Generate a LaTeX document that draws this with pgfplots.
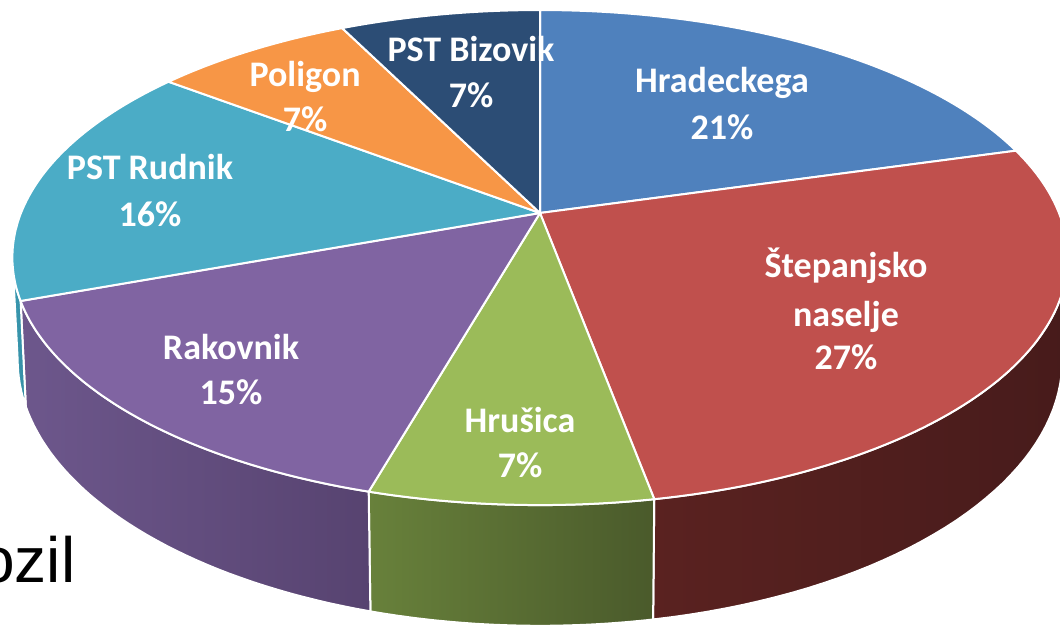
\documentclass[border=0pt]{standalone}
\usepackage{pgfplots}
\pgfplotsset{compat=1.18}
\usepackage{fontspec}
\newfontfamily\labfont{Carlito}
\newfontfamily\ozfont{Liberation Sans}
\definecolor{cHrad}{HTML}{4F81BD}
\definecolor{cStep}{HTML}{C0504D}
\definecolor{cHrus}{HTML}{9BBB59}
\definecolor{cRak}{HTML}{8064A2}
\definecolor{cRud}{HTML}{4BACC6}
\definecolor{cPol}{HTML}{F79646}
\definecolor{cBiz}{HTML}{2C4D75}
\definecolor{sStepL}{HTML}{5A2220}
\definecolor{sStepR}{HTML}{471B1B}
\definecolor{sHrusL}{HTML}{68813B}
\definecolor{sHrusR}{HTML}{4A5A2B}
\definecolor{sRakL}{HTML}{6D578C}
\definecolor{sRakR}{HTML}{574370}
\definecolor{sRudL}{HTML}{3A9AB2}
\definecolor{sRudR}{HTML}{348CA2}
\tikzset{lbl/.style={anchor=base, text=white, inner sep=0pt, font=\labfont\bfseries\fontsize{18pt}{22pt}\selectfont}}
% slice boundaries in percent (values: 20.6, 26.5, 7.3, 15.0, 16.0, 7.3, 7.3)
\newcommand\topslice[3]{%
  \addplot[fill=#3, draw=white, line width=1pt, line join=round, domain=#1:#2, samples=80]
    ({tx(3.6*x)},{ty(3.6*x)}) -- (axis cs:540,213) -- cycle;}
\newcommand\sideslice[4]{%
  \addplot[draw=white, line width=1pt, line join=round, left color=#3, right color=#4,
    variable=\t, samples at={0,1,...,40,80,81,...,120}]
    ({ifthenelse(\t<60, tx(3.6*(#1+\t/40*(#2-#1))), bx(3.6*(#2-(\t-80)/40*(#2-#1))))},
     {ifthenelse(\t<60, ty(3.6*(#1+\t/40*(#2-#1))), by(3.6*(#2-(\t-80)/40*(#2-#1))))}) -- cycle;}
\begin{document}
\begin{tikzpicture}[
  declare function={
    ss(\a)=1/(1+0.18*cos(\a));
    tx(\a)=540+519*sin(\a)*ss(\a);
    ty(\a)=213-239.5*cos(\a)*ss(\a);
    bx(\a)=540+0.99*519*sin(\a)*ss(\a);
    by(\a)=ty(\a)+99*ss(\a);
  }]
\begin{axis}[at={(0,0)}, anchor=south west,
  width=530pt, height=312.5pt, scale only axis,
  xmin=0, xmax=1060, ymin=0, ymax=625, y dir=reverse,
  hide axis, clip=true]
% side walls (front half only)
\sideslice{27.88}{47.1}{sStepL}{sStepR}
\sideslice{47.1}{54.4}{sHrusL}{sHrusR}
\sideslice{54.4}{69.4}{sRakL}{sRakR}
\sideslice{69.4}{72.12}{sRudL}{sRudR}
% top faces
\topslice{0}{20.6}{cHrad}
\topslice{20.6}{47.1}{cStep}
\topslice{47.1}{54.4}{cHrus}
\topslice{54.4}{69.4}{cRak}
\topslice{69.4}{85.4}{cRud}
\topslice{85.4}{92.7}{cPol}
\topslice{92.7}{100}{cBiz}
\end{axis}
\begin{axis}[at={(0,0)}, anchor=south west,
  width=530pt, height=312.5pt, scale only axis,
  xmin=0, xmax=1060, ymin=0, ymax=625, y dir=reverse,
  hide axis, clip=false]
\node[lbl] at (axis cs:722,93) {Hradeckega};
\node[lbl] at (axis cs:722,140) {21\%};
\node[lbl] at (axis cs:846,278) {Štepanjsko};
\node[lbl] at (axis cs:846,327) {naselje};
\node[lbl] at (axis cs:846,370) {27\%};
\node[lbl] at (axis cs:520,433) {Hrušica};
\node[lbl] at (axis cs:520,478) {7\%};
\node[lbl] at (axis cs:231,360) {Rakovnik};
\node[lbl] at (axis cs:231,405) {15\%};
\node[lbl] at (axis cs:150,180) {PST Rudnik};
\node[lbl] at (axis cs:150,227) {16\%};
\node[lbl] at (axis cs:305,87) {Poligon};
\node[lbl] at (axis cs:305,132) {7\%};
\node[lbl] at (axis cs:471,62) {PST Bizovik};
\node[lbl] at (axis cs:471,108) {7\%};
\node[anchor=base west, text=black, font=\ozfont\fontsize{32pt}{38pt}\selectfont, inner sep=0pt] at (axis cs:-21,582) {ozil};
\end{axis}
\pgfresetboundingbox
\useasboundingbox (0,0) rectangle (530pt,312.5pt);
\end{tikzpicture}
\end{document}
